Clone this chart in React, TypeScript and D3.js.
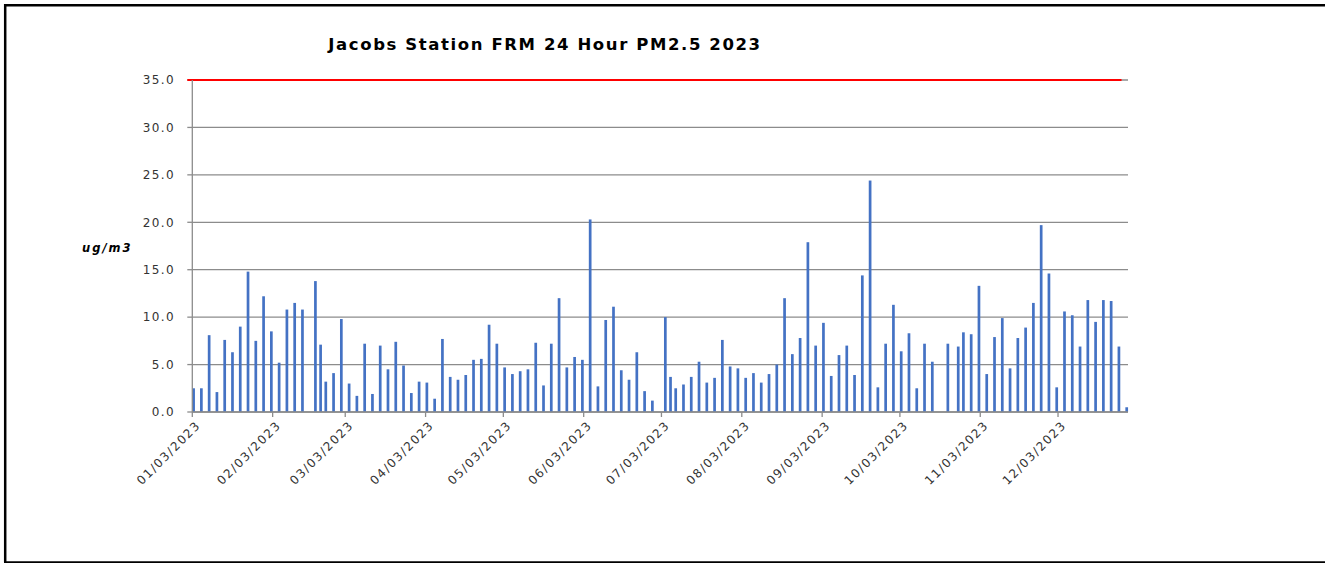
import React, { useEffect } from "react";
import * as d3 from "d3";

// sample dates (24 hr FRM filters, mostly 1-in-3 day)
const sampleDates = [
  "2023-01-03", "2023-01-06", "2023-01-09", "2023-01-12", "2023-01-15", "2023-01-18", "2023-01-21", "2023-01-24",
  "2023-01-27", "2023-01-30", "2023-02-02", "2023-02-05", "2023-02-08", "2023-02-11", "2023-02-14", "2023-02-19",
  "2023-02-21", "2023-02-23", "2023-02-26", "2023-03-01", "2023-03-04", "2023-03-07", "2023-03-10", "2023-03-13",
  "2023-03-16", "2023-03-19", "2023-03-22", "2023-03-25", "2023-03-28", "2023-03-31", "2023-04-03", "2023-04-06",
  "2023-04-09", "2023-04-12", "2023-04-15", "2023-04-18", "2023-04-21", "2023-04-24", "2023-04-27", "2023-04-30",
  "2023-05-03", "2023-05-06", "2023-05-09", "2023-05-12", "2023-05-15", "2023-05-18", "2023-05-21", "2023-05-24",
  "2023-05-27", "2023-05-30", "2023-06-02", "2023-06-05", "2023-06-08", "2023-06-11", "2023-06-14", "2023-06-17",
  "2023-06-20", "2023-06-23", "2023-06-26", "2023-06-29", "2023-07-04", "2023-07-06", "2023-07-08", "2023-07-11",
  "2023-07-14", "2023-07-17", "2023-07-20", "2023-07-23", "2023-07-26", "2023-07-29", "2023-08-01", "2023-08-04",
  "2023-08-07", "2023-08-10", "2023-08-13", "2023-08-16", "2023-08-19", "2023-08-22", "2023-08-25", "2023-08-28",
  "2023-08-31", "2023-09-03", "2023-09-06", "2023-09-09", "2023-09-12", "2023-09-15", "2023-09-18", "2023-09-21",
  "2023-09-24", "2023-09-27", "2023-09-30", "2023-10-03", "2023-10-06", "2023-10-09", "2023-10-12", "2023-10-15",
  "2023-10-21", "2023-10-25", "2023-10-27", "2023-10-30", "2023-11-02", "2023-11-05", "2023-11-08", "2023-11-11",
  "2023-11-14", "2023-11-17", "2023-11-20", "2023-11-23", "2023-11-26", "2023-11-29", "2023-12-02", "2023-12-05",
  "2023-12-08", "2023-12-11", "2023-12-14", "2023-12-17", "2023-12-20", "2023-12-23", "2023-12-26", "2023-12-29",
];

const pm25 = [
  2.5, 2.5, 8.1, 2.1, 7.6, 6.3, 9.0, 14.8,
  7.5, 12.2, 8.5, 5.2, 10.8, 11.5, 10.8, 13.8,
  7.1, 3.2, 4.1, 9.8, 3.0, 1.7, 7.2, 1.9,
  7.0, 4.5, 7.4, 4.9, 2.0, 3.2, 3.1, 1.4,
  7.7, 3.7, 3.4, 3.9, 5.5, 5.6, 9.2, 7.2,
  4.7, 4.0, 4.3, 4.5, 7.3, 2.8, 7.2, 12.0,
  4.7, 5.8, 5.5, 20.3, 2.7, 9.7, 11.1, 4.4,
  3.4, 6.3, 2.2, 1.2, 10.0, 3.7, 2.5, 2.9,
  3.7, 5.3, 3.1, 3.6, 7.6, 4.8, 4.6, 3.6,
  4.1, 3.1, 4.0, 5.0, 12.0, 6.1, 7.8, 17.9,
  7.0, 9.4, 3.8, 6.0, 7.0, 3.9, 14.4, 24.4,
  2.6, 7.2, 11.3, 6.4, 8.3, 2.5, 7.2, 5.3,
  7.2, 6.9, 8.4, 8.2, 13.3, 4.0, 7.9, 9.9,
  4.6, 7.8, 8.9, 11.5, 19.7, 14.6, 2.6, 10.6,
  10.2, 6.9, 11.8, 9.5, 11.8, 11.7, 6.9, 0.5,
];

const monthTicks = [
  "2023-01-03", "2023-02-03", "2023-03-03", "2023-04-03", "2023-05-03", "2023-06-03",
  "2023-07-03", "2023-08-03", "2023-09-03", "2023-10-03", "2023-11-03", "2023-12-03",
];

const yTicks = [0, 5, 10, 15, 20, 25, 30, 35];
const standard = 35; // 24 hr NAAQS
const standardSpan = ["2023-01-03", "2023-12-27"];

const parse = d3.utcParse("%Y-%m-%d");
const fmt = d3.utcFormat("%m/%d/%Y");

export default function App() {
  useEffect(() => {
    document.body.style.margin = "0";
  }, []);

  const W = 1325;
  const H = 563;
  const left = 192.3;
  const right = 1128;
  const top = 80;
  const bottom = 412;

  const x = d3
    .scaleUtc()
    .domain([parse("2023-01-03")!, parse("2023-12-30")!])
    .range([left, right]);
  const y = d3.scaleLinear().domain([0, 35]).range([bottom, top]);

  const dayW = x(parse("2023-01-04")!) - x(parse("2023-01-03")!);
  const barW = 2.7;
  const data = sampleDates.map((d, i) => ({ date: parse(d)!, v: pm25[i] }));

  const tickFont = "'DejaVu Sans', Verdana, sans-serif";

  return (
    <svg width={W} height={H} style={{ display: "block", background: "#fff" }}>
      {/* frame */}
      <line x1={5} y1={5.2} x2={W} y2={5.2} stroke="#000" strokeWidth={2.5} />
      <line x1={5.2} y1={4} x2={5.2} y2={562.5} stroke="#000" strokeWidth={2.5} />
      <line x1={4} y1={562.3} x2={W} y2={562.3} stroke="#000" strokeWidth={2} />

      <text
        x={545}
        y={50}
        textAnchor="middle"
        fontFamily={tickFont}
        fontWeight="bold"
        fontSize={16.5}
        letterSpacing={1.6}
        fill="#000"
      >
        Jacobs Station FRM 24 Hour PM2.5 2023
      </text>

      <text
        x={82}
        y={252}
        fontFamily={tickFont}
        fontWeight="bold"
        fontStyle="italic"
        fontSize={11.5}
        letterSpacing={2}
        fill="#000"
      >
        ug/m3
      </text>

      {/* gridlines */}
      {yTicks.map((t) => (
        <g key={t}>
          <line x1={left} x2={right} y1={y(t)} y2={y(t)} stroke="#8c8c8c" strokeWidth={1.3} />
          <line x1={left - 5} x2={left} y1={y(t)} y2={y(t)} stroke="#8c8c8c" strokeWidth={1.3} />
          <text
            x={175}
            y={y(t)}
            dy="0.36em"
            textAnchor="end"
            fontFamily={tickFont}
            fontSize={12}
            letterSpacing={1.4}
            fill="#333"
          >
            {t.toFixed(1)}
          </text>
        </g>
      ))}

      {/* bars */}
      {data.map((d) => (
        <rect
          key={d.date.toISOString()}
          x={x(d.date) + dayW / 2 - barW / 2}
          y={y(d.v)}
          width={barW}
          height={y(0) - y(d.v)}
          fill="#4472C4"
        />
      ))}

      {/* 35 ug/m3 standard */}
      <line
        x1={left - 5}
        x2={x(parse(standardSpan[1])!) + dayW / 2}
        y1={y(standard)}
        y2={y(standard)}
        stroke="#ff0000"
        strokeWidth={2.2}
      />

      {/* axes */}
      <line x1={left} x2={left} y1={top} y2={bottom} stroke="#8c8c8c" strokeWidth={1.3} />
      <line x1={left} x2={right} y1={bottom} y2={bottom} stroke="#8c8c8c" strokeWidth={1.3} />
      {monthTicks.map((m) => {
        const tx = x(parse(m)!);
        return (
          <g key={m}>
            <line x1={tx} x2={tx} y1={bottom} y2={bottom + 5} stroke="#8c8c8c" strokeWidth={1.3} />
            <text
              transform={`translate(${tx + 6},${bottom + 11}) rotate(-45)`}
              dy="0.35em"
              textAnchor="end"
              fontFamily={tickFont}
              fontSize={12}
              letterSpacing={1.5}
              fill="#333"
            >
              {fmt(parse(m)!)}
            </text>
          </g>
        );
      })}
    </svg>
  );
}
